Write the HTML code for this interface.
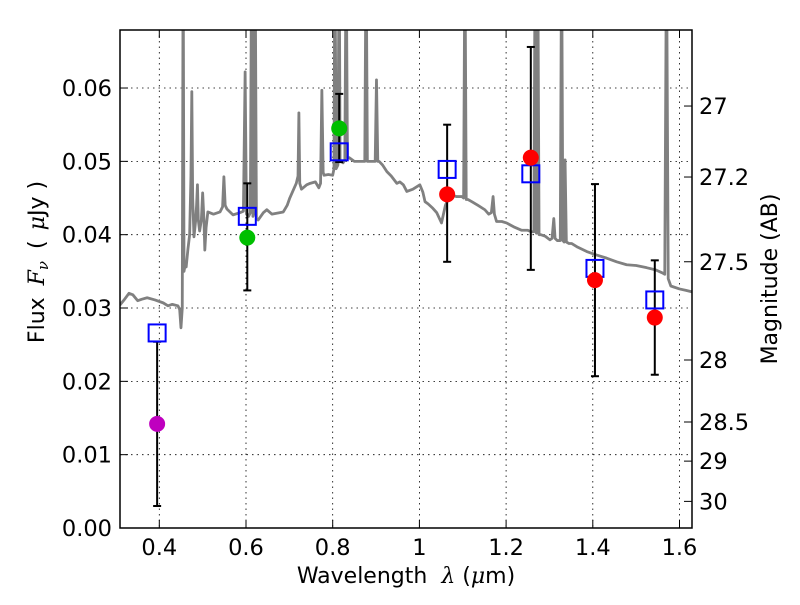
<!DOCTYPE html>
<html><head><meta charset="utf-8"><style>
html,body{margin:0;padding:0;background:#fff;}
svg text{font-family:"DejaVu Sans","Liberation Sans",sans-serif;fill:#000;}
</style></head><body>
<svg id="chart" width="800" height="600" xmlns="http://www.w3.org/2000/svg">
<defs><clipPath id="clip"><rect x="120" y="30" width="572" height="498"/></clipPath></defs>
<g id="grid"></g>
<g id="spec" clip-path="url(#clip)"></g>
<g id="marks"></g>
<rect x="120" y="30" width="572" height="498" fill="none" stroke="#000" stroke-width="1.5"/>
<g id="axes"></g>
<text x="406" y="583" font-size="22" text-anchor="middle">Wavelength<tspan dx="14" font-family="DejaVu Serif" font-style="italic">λ</tspan> (<tspan font-family="DejaVu Serif" font-style="italic">μ</tspan>m)</text>
<text transform="translate(44,262) rotate(-90)" font-size="22" text-anchor="middle">Flux<tspan dx="12" font-family="DejaVu Serif" font-style="italic">F<tspan font-size="15" dy="4">ν</tspan></tspan><tspan dy="-4" dx="12">(</tspan><tspan dx="10" font-family="DejaVu Serif" font-style="italic">μ</tspan>Jy )</text>
<text transform="translate(777,279) rotate(-90)" font-size="22" text-anchor="middle">Magnitude (AB)</text>
</svg>
<script>
const xTicks=[0.4,0.6,0.8,1.0,1.2,1.4,1.6];
const xTickLabels=["0.4","0.6","0.8","1","1.2","1.4","1.6"];
const yTicks=[0,0.01,0.02,0.03,0.04,0.05,0.06];
const yTickLabels=["0.00","0.01","0.02","0.03","0.04","0.05","0.06"];
const magTicks=[27,27.2,27.5,28,28.5,29,30];
const magTickLabels=["27","27.2","27.5","28","28.5","29","30"];
const specLam=[0.309,0.320,0.330,0.339,0.350,0.360,0.372,0.390,0.409,0.420,0.430,0.443,0.447,0.450,0.453,0.455,0.457,0.460,0.462,0.466,0.470,0.473,0.475,0.477,0.480,0.484,0.486,0.488,0.490,0.493,0.497,0.500,0.503,0.505,0.508,0.512,0.525,0.540,0.546,0.549,0.552,0.556,0.570,0.586,0.594,0.598,0.601,0.606,0.610,0.613,0.616,0.619,0.621,0.624,0.628,0.640,0.648,0.660,0.686,0.695,0.701,0.710,0.716,0.720,0.722,0.724,0.728,0.740,0.748,0.760,0.768,0.772,0.775,0.778,0.780,0.790,0.800,0.803,0.805,0.808,0.812,0.815,0.817,0.819,0.824,0.828,0.831,0.834,0.838,0.850,0.860,0.870,0.874,0.877,0.880,0.884,0.895,0.898,0.901,0.904,0.907,0.915,0.925,0.935,0.948,0.955,0.963,0.971,0.985,1.001,1.008,1.013,1.020,1.031,1.040,1.051,1.060,1.071,1.085,1.098,1.102,1.105,1.108,1.112,1.121,1.135,1.151,1.160,1.166,1.170,1.173,1.178,1.190,1.201,1.220,1.236,1.250,1.258,1.264,1.267,1.270,1.273,1.276,1.280,1.290,1.301,1.306,1.310,1.313,1.318,1.325,1.328,1.331,1.334,1.336,1.339,1.345,1.351,1.365,1.386,1.410,1.432,1.455,1.478,1.500,1.524,1.545,1.560,1.566,1.570,1.574,1.580,1.585,1.600,1.615,1.629];
const specFlux=[0.0304,0.0312,0.0320,0.0318,0.0310,0.0312,0.0314,0.0311,0.0307,0.0303,0.0305,0.0303,0.0298,0.0273,0.0300,0.080,0.0350,0.0360,0.0356,0.0380,0.0400,0.0480,0.0595,0.0450,0.0397,0.0420,0.0440,0.0468,0.0420,0.0405,0.0420,0.0457,0.0420,0.0379,0.0410,0.0431,0.0428,0.0431,0.0438,0.0479,0.0440,0.0435,0.0427,0.0430,0.0432,0.0622,0.0428,0.0425,0.0430,0.080,0.0425,0.0430,0.080,0.0422,0.0420,0.0430,0.0434,0.0428,0.0431,0.0440,0.0450,0.0462,0.0470,0.0480,0.0566,0.0470,0.0462,0.0468,0.0470,0.0472,0.0464,0.0470,0.0597,0.0485,0.0481,0.0482,0.0481,0.0490,0.080,0.0490,0.0495,0.080,0.0500,0.0500,0.0498,0.0502,0.080,0.0505,0.0505,0.0500,0.0500,0.0500,0.0500,0.080,0.0500,0.0500,0.0500,0.0500,0.0611,0.0500,0.0500,0.0495,0.0486,0.0480,0.0470,0.0472,0.0468,0.0459,0.0462,0.0468,0.0458,0.0445,0.0442,0.0436,0.0430,0.0416,0.0440,0.0455,0.0452,0.0452,0.0450,0.080,0.0448,0.0448,0.0445,0.0440,0.0434,0.0428,0.0430,0.0452,0.0428,0.0418,0.0418,0.0416,0.0410,0.0406,0.0406,0.0404,0.0404,0.080,0.0402,0.080,0.0400,0.0400,0.0398,0.0393,0.0395,0.0422,0.0395,0.0392,0.0392,0.080,0.0392,0.0390,0.0502,0.0390,0.0388,0.0388,0.0383,0.0377,0.0372,0.0368,0.0363,0.0359,0.0358,0.0355,0.0352,0.0348,0.0346,0.080,0.0340,0.0330,0.0329,0.0326,0.0324,0.0322];
const obsLam=[0.395,0.603,0.815,1.064,1.257,1.405,1.543];
const obsFlux=[0.0142,0.0396,0.0545,0.0455,0.0505,0.0338,0.0287];
const obsHi=[0.0254,0.0470,0.0592,0.0550,0.0656,0.0469,0.0365];
const obsLo=[0.0030,0.0324,0.0499,0.0363,0.0352,0.0207,0.0209];
const obsColor=["#bf00bf","#00bf00","#00bf00","#ff0000","#ff0000","#ff0000","#ff0000"];
const modelFlux=[0.0266,0.0425,0.0513,0.0489,0.0483,0.0354,0.0311];

const NS="http://www.w3.org/2000/svg";
const X=v=>159.3+(v-0.4)*433.5;
const Y=v=>528-v*7333;
function mk(tag,parent,attrs){const e=document.createElementNS(NS,tag);for(const k in attrs)e.setAttribute(k,attrs[k]);parent.appendChild(e);return e;}
const grid=document.getElementById('grid'),axes=document.getElementById('axes'),spec=document.getElementById('spec'),marks=document.getElementById('marks');
xTicks.forEach((t,i)=>{const x=X(t);
 const g=mk('line',grid,{x1:x,x2:x,y1:30,y2:528,stroke:'#000','stroke-width':0.8,'stroke-dasharray':'1.5,4'});
 
 mk('line',axes,{x1:x,x2:x,y1:528,y2:520,stroke:'#000','stroke-width':1});
 mk('line',axes,{x1:x,x2:x,y1:30,y2:38,stroke:'#000','stroke-width':1});
 const l=mk('text',axes,{x:x,y:555,'font-size':22.5,'text-anchor':'middle'});l.textContent=xTickLabels[i];
 });
yTicks.forEach((t,i)=>{const y=Y(t);
 if(t>0){const g=mk('line',grid,{x1:120,x2:692,y1:y,y2:y,stroke:'#000','stroke-width':0.8,'stroke-dasharray':'1.5,4'});
 }
 mk('line',axes,{x1:120,x2:128,y1:y,y2:y,stroke:'#000','stroke-width':1});
 const l=mk('text',axes,{x:112,y:y+8,'font-size':22.5,'text-anchor':'end'});l.textContent=yTickLabels[i];
 });
magTicks.forEach((m,i)=>{const y=Y(Math.pow(10,(23.9-m)/2.5));
 mk('line',axes,{x1:684,x2:692,y1:y,y2:y,stroke:'#000','stroke-width':1});
 const l=mk('text',axes,{x:699,y:y+8,'font-size':22.5});l.textContent=magTickLabels[i];
 });
const p=mk('polyline',spec,{points:specLam.map((l,i)=>X(l)+','+Y(specFlux[i])).join(' '),fill:'none',stroke:'#808080','stroke-width':2.8,'stroke-linejoin':'round'});

obsLam.forEach((l,i)=>{const x=X(l);
 const e=mk('line',marks,{x1:x,x2:x,y1:Y(obsHi[i]),y2:Y(obsLo[i]),stroke:'#000','stroke-width':2});
 
 mk('line',marks,{x1:x-4,x2:x+4,y1:Y(obsHi[i]),y2:Y(obsHi[i]),stroke:'#000','stroke-width':2});
 mk('line',marks,{x1:x-4,x2:x+4,y1:Y(obsLo[i]),y2:Y(obsLo[i]),stroke:'#000','stroke-width':2});
 const s=mk('rect',marks,{x:X(l)-8.5,y:Y(modelFlux[i])-8.5,width:17,height:17,fill:'none',stroke:'#0000ff','stroke-width':2});
 
 const c=mk('circle',marks,{cx:x,cy:Y(obsFlux[i]),r:8,fill:obsColor[i]});
 });
</script>
</body></html>
